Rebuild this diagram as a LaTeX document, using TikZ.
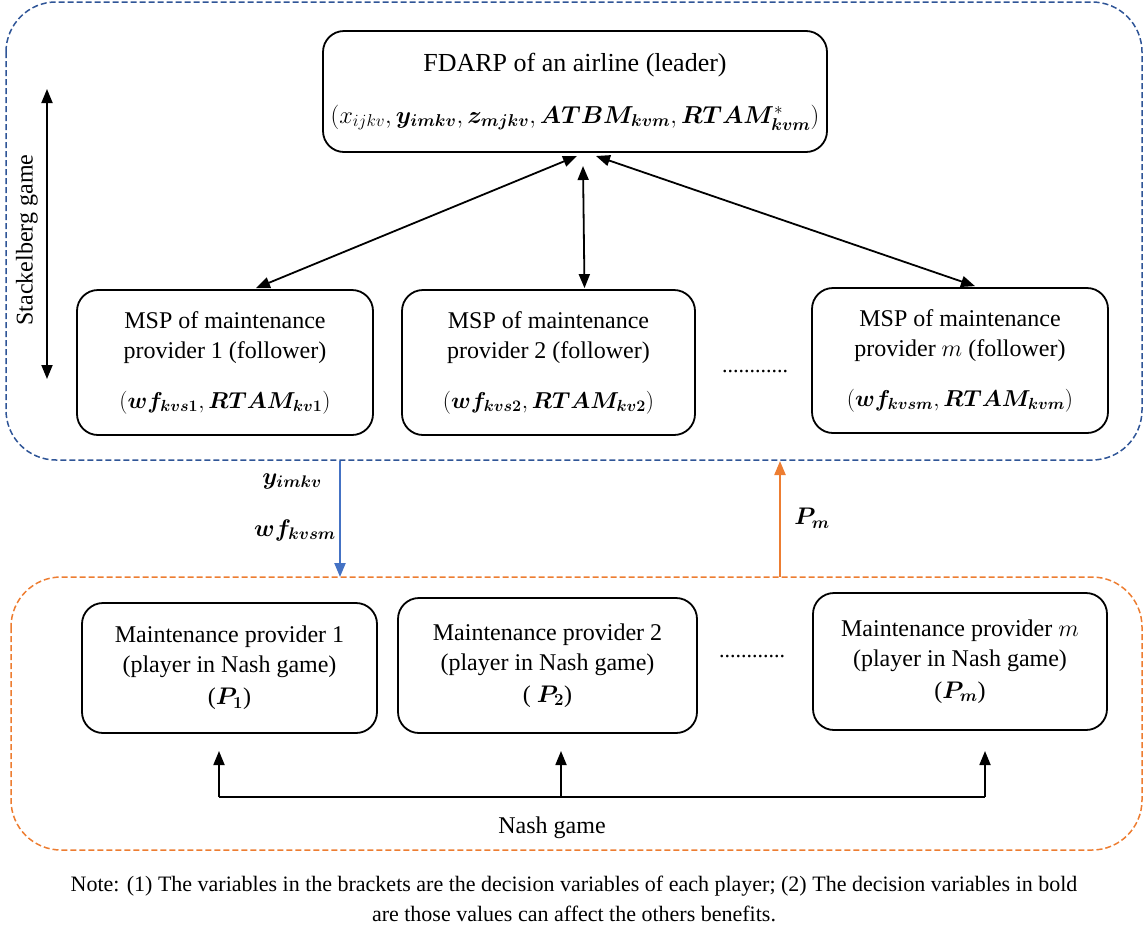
\documentclass[tikz,border=0pt]{standalone}
\usepackage{fix-cm}
\usepackage{amsmath,bm}
\usepackage{fontspec}
\setmainfont{Liberation Serif}
\usetikzlibrary{arrows.meta,calc}
\definecolor{dblue}{HTML}{2F5597}
\definecolor{ablue}{HTML}{4472C4}
\definecolor{aorange}{HTML}{ED7D31}
\begin{document}
\begin{tikzpicture}[x=1pt,y=-1pt,
  box/.style={draw=black, line width=1.8pt, rounded corners=21pt, align=center, inner sep=0pt},
  maintxt/.style={font=\fontsize{24}{30}\selectfont},
  link/.style={line width=1.8pt, {Triangle[length=14pt,width=11pt]}-{Triangle[length=14pt,width=11pt]}},
  onearrow/.style={line width=1.8pt, -{Triangle[length=14pt,width=11pt]}},
  colarrow/.style={line width=2.2pt, draw=#1, -{Triangle[length=14pt,width=11pt,fill=#1]}},
  group/.style={line width=1.5pt, dash pattern=on 6pt off 3pt, rounded corners=50pt}]
\useasboundingbox (0,0) rectangle (1145,930);
% group frames
\draw[group, draw=dblue] (6,2) rectangle (1142,460);
\draw[group, draw=aorange] (11,577) rectangle (1142,850);
% leader
\node[box, font=\fontsize{26}{30}\selectfont, minimum width=504pt, minimum height=121pt] (lead) at (575,91.5)
  {FDARP of an airline (leader)\\[22pt]
   {\fontsize{24.5}{30}\selectfont$(x_{ijkv}, \bm{y_{imkv}}, \bm{z_{mjkv}}, \bm{ATBM_{kvm}}, \bm{RTAM}^{*}_{\bm{kvm}})$}};
% followers
\node[box, maintxt, minimum width=296pt, minimum height=145pt] (msp1) at (225,362.5)
  {MSP of maintenance\\provider 1 (follower)\\[20pt]{\fontsize{23}{30}\selectfont$(\bm{wf_{kvs1}},\bm{RTAM_{kv1}})$}};
\node[box, maintxt, minimum width=293pt, minimum height=145pt] (msp2) at (548.5,362.5)
  {MSP of maintenance\\provider 2 (follower)\\[20pt]{\fontsize{23}{30}\selectfont$(\bm{wf_{kvs2}}, \bm{RTAM_{kv2}})$}};
\node[box, maintxt, minimum width=296pt, minimum height=145pt] (mspm) at (960,360.5)
  {MSP of maintenance\\provider $m$ (follower)\\[20pt]{\fontsize{23}{30}\selectfont$(\bm{wf_{kvsm}}, \bm{RTAM_{kvm}})$}};
\node[font=\fontsize{22}{26}\selectfont] (dots1) at (755,372) {............};
% stackelberg
\coordinate (stA) at (47,89);
\coordinate (stB) at (47,379);
\draw[link] (stA) -- (stB);
\node[maintxt, rotate=90] (stlab) at (27,240) {Stackelberg game};
% leader-follower links
\coordinate (l1) at (577,156);
\coordinate (l2) at (583,166);
\coordinate (l3) at (596,156);
\coordinate (f1) at ($(msp1.north)+(31,-1)$);
\coordinate (f2) at ($(msp2.north)+(36,-1)$);
\coordinate (f3) at ($(mspm.north)+(15,-1)$);
\draw[link] (l1) -- (f1);
\draw[link] (l2) -- (f2);
\draw[link] (l3) -- (f3);
% between games
\coordinate (bA) at (340,461);
\coordinate (bB) at (340,577);
\draw[colarrow=ablue] (bA) -- (bB);
\node[maintxt] (ylab) at (292,481) {$\bm{y_{imkv}}$};
\node[maintxt] (wlab) at (295,530) {$\bm{wf_{kvsm}}$};
\coordinate (oA) at (780,577);
\coordinate (oB) at (780,461);
\draw[colarrow=aorange] (oA) -- (oB);
\node[maintxt] (plab) at (812,518) {$\bm{P_m}$};
% nash players
\node[box, maintxt, minimum width=295pt, minimum height=130pt] (mp1) at (229.5,668)
  {Maintenance provider 1\\(player in Nash game)\\[2pt]($\bm{P_1}$)};
\node[box, maintxt, minimum width=299pt, minimum height=135pt] (mp2) at (547.5,665.5)
  {Maintenance provider 2\\(player in Nash game)\\[2pt]( $\bm{P_2}$)};
\node[box, maintxt, minimum width=294pt, minimum height=137pt] (mpm) at (960,661.5)
  {Maintenance provider $m$\\(player in Nash game)\\[2pt]($\bm{P_m}$)};
\node[font=\fontsize{22}{26}\selectfont] (dots2) at (752,656) {............};
% nash arrows
\coordinate (n1) at (219,797);
\coordinate (n2) at (561,797);
\coordinate (n3) at (985,797);
\coordinate (t1) at (219,751);
\coordinate (t2) at (561,751);
\coordinate (t3) at (985,751);
\draw[line width=1.8pt] (n1) -- (n3);
\draw[onearrow] (n1) -- (t1);
\draw[onearrow] (n2) -- (t2);
\draw[onearrow] (n3) -- (t3);
\node[maintxt] (nash) at (552,828) {Nash game};
% note
\node[font=\fontsize{22}{30}\selectfont, align=center] (note) at (574,899)
  {Note: (1) The variables in the brackets are the decision variables of each player; (2) The decision variables in bold\\are those values can affect the others benefits.};
\end{tikzpicture}
\end{document}
